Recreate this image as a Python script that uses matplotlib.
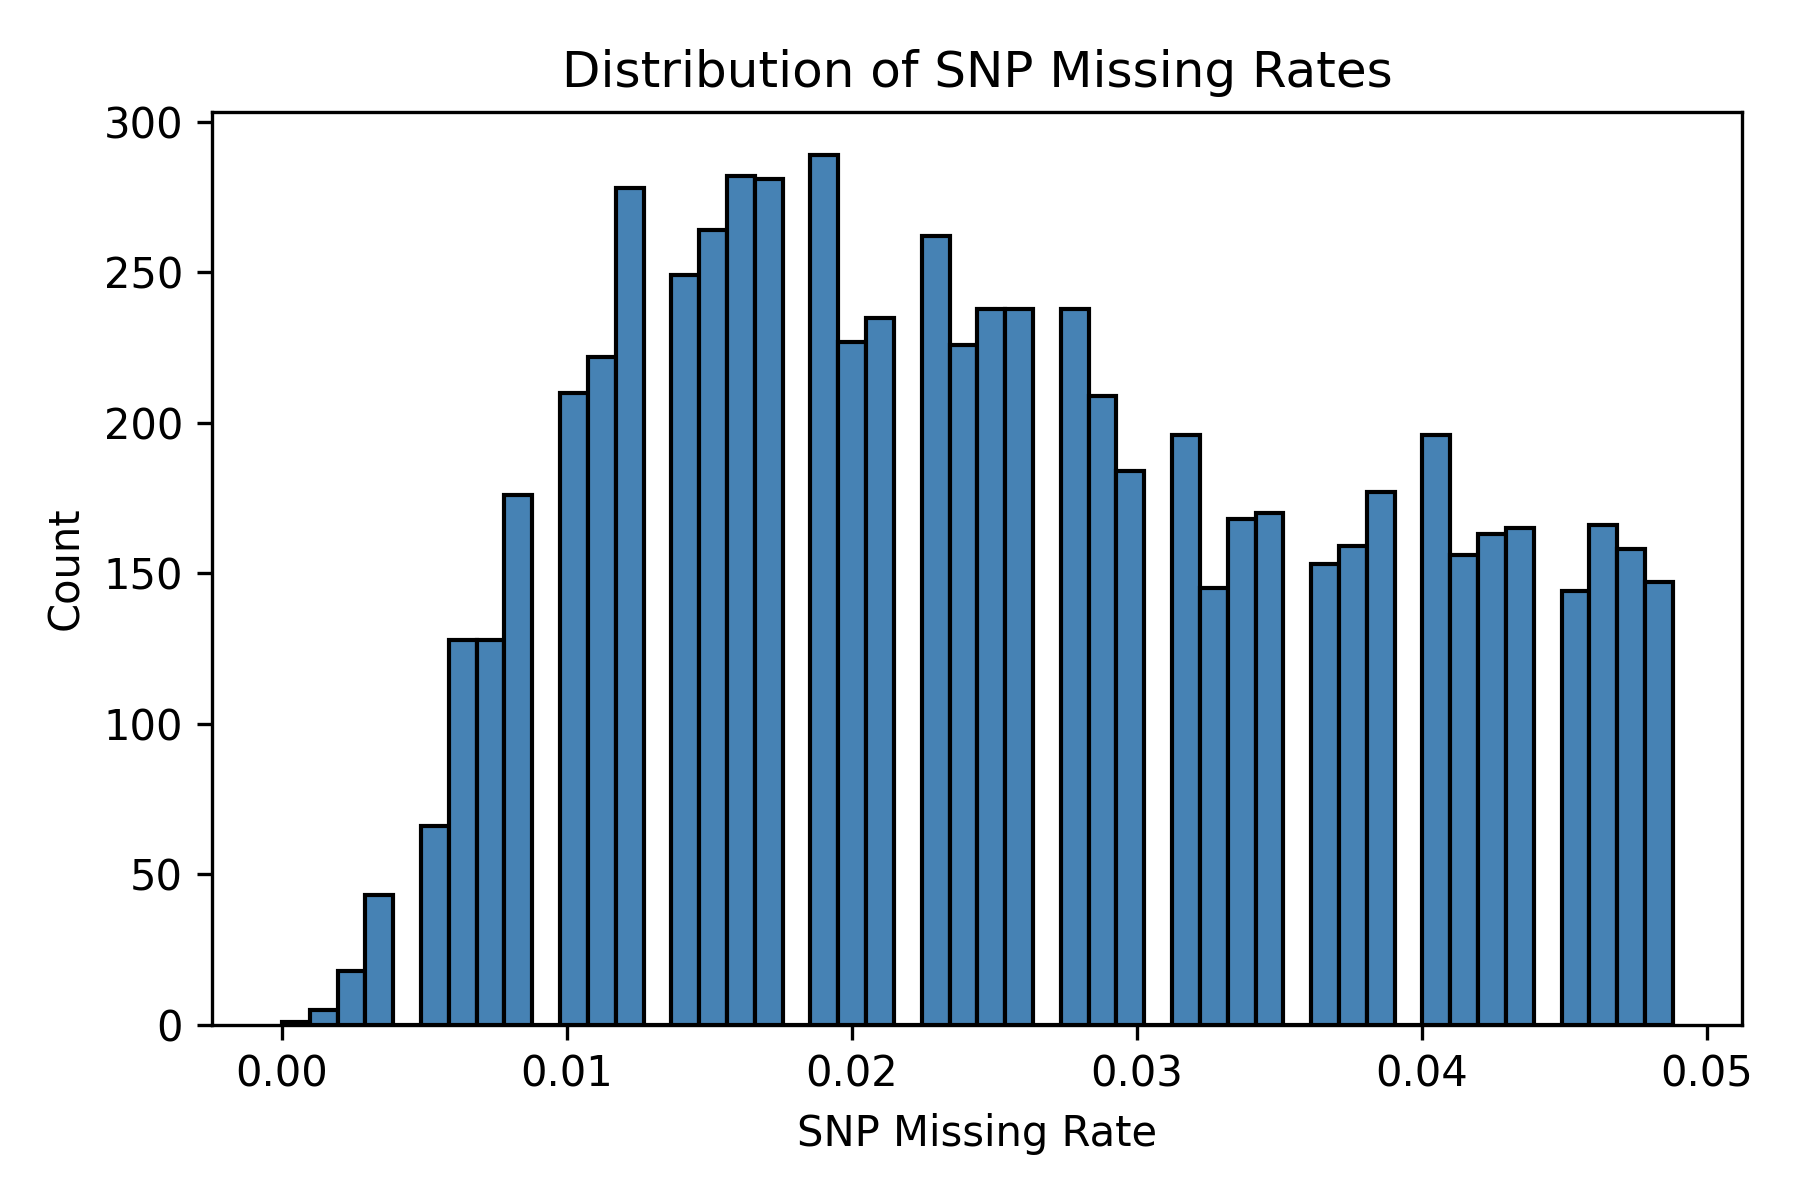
import matplotlib
matplotlib.use("Agg")
import matplotlib.pyplot as plt
import numpy as np

# histogram of SNP missing rates, 50 bins from 0 to max rate
rate_min = 0.0
rate_max = 0.0488
n_bins = 50
counts = [1, 5, 18, 43, 0, 66, 128, 128, 176, 0,
          210, 222, 278, 0, 249, 264, 282, 281, 0, 289,
          227, 235, 0, 262, 226, 238, 238, 0, 238, 209,
          184, 0, 196, 145, 168, 170, 0, 153, 159, 177,
          0, 196, 156, 163, 165, 0, 144, 166, 158, 147]

edges = np.linspace(rate_min, rate_max, n_bins + 1)
widths = np.diff(edges)

fig, ax = plt.subplots(figsize=(6, 4), dpi=300)
ax.bar(edges[:-1], counts, width=widths, align='edge',
       color='steelblue', edgecolor='black', linewidth=1)
ax.set_xlim(rate_min - 0.05 * rate_max, rate_max * 1.05)
ax.set_ylim(0, max(counts) * 1.05)
ax.set_title('Distribution of SNP Missing Rates')
ax.set_xlabel('SNP Missing Rate')
ax.set_ylabel('Count')
fig.subplots_adjust(left=0.118, right=0.968, top=0.907, bottom=0.146)
plt.savefig('out.png', dpi=300)
